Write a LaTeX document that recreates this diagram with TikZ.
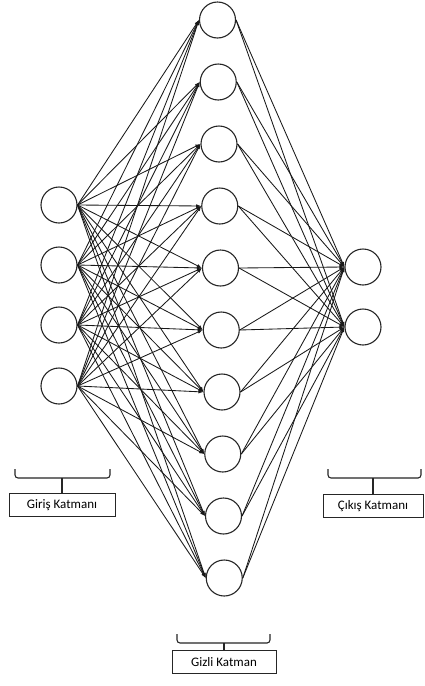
\documentclass[tikz,border=0pt]{standalone}
\usepackage{fontspec}
\setmainfont{Carlito}
\usetikzlibrary{arrows.meta}
\begin{document}
\begin{tikzpicture}[x=1pt,y=-1pt,
  neuron/.style={circle,draw=black!85,line width=1.1pt,minimum size=36pt,inner sep=0pt},
  link/.style={draw=black!90,line width=0.85pt,-{Latex[length=5pt,width=3.5pt]}},
  labelbox/.style={draw=black!85,line width=1pt,minimum height=23pt,inner sep=0pt,font=\fontsize{13}{15}\selectfont},
  brace/.style={draw=black!85,line width=1.1pt,rounded corners=3pt}]
\useasboundingbox (0,0) rectangle (425,686);
\fill[white] (0,0) rectangle (425,686);
% input layer
\foreach \i/\y in {1/205,2/265,3/325,4/386}
  \node[neuron] (in\i) at (59,\y) {};
% hidden layer
\foreach \i in {1,...,10}
  \node[neuron] (h\i) at ({217.5+0.75*(\i-1)},{20+62*(\i-1)}) {};
% output layer
\node[neuron] (out1) at (363,267) {};
\node[neuron] (out2) at (363,327) {};
% connections
\foreach \i in {1,...,4}
  \foreach \j in {1,...,10}
    \draw[link] (in\i.east) -- (h\j.west);
\foreach \j in {1,...,10}
  \foreach \k in {1,2}
    \draw[link] (h\j.east) -- (out\k.west);
% labels
\node[labelbox,minimum width=106pt] (lin) at (62,505) {Giriş Katmanı};
\node[labelbox,minimum width=100pt] (lout) at (373,506) {Çıkış Katmanı};
\node[labelbox,minimum width=104pt] (lhid) at (224,662) {Gizli Katman};
% braces
\draw[brace] (15,469) -- (15,478) -- (110,478) -- (110,469);
\coordinate (bin) at (62,478);
\draw[line width=1.1pt,black!85] (bin) -- (lin.north);
\draw[brace] (328,469) -- (328,478) -- (421,478) -- (421,469);
\coordinate (bout) at (373,478);
\draw[line width=1.1pt,black!85] (bout) -- (lout.north);
\draw[brace] (177,634) -- (177,643) -- (270,643) -- (270,634);
\coordinate (bhid) at (224,643);
\draw[line width=1.1pt,black!85] (bhid) -- (lhid.north);
\end{tikzpicture}
\end{document}
